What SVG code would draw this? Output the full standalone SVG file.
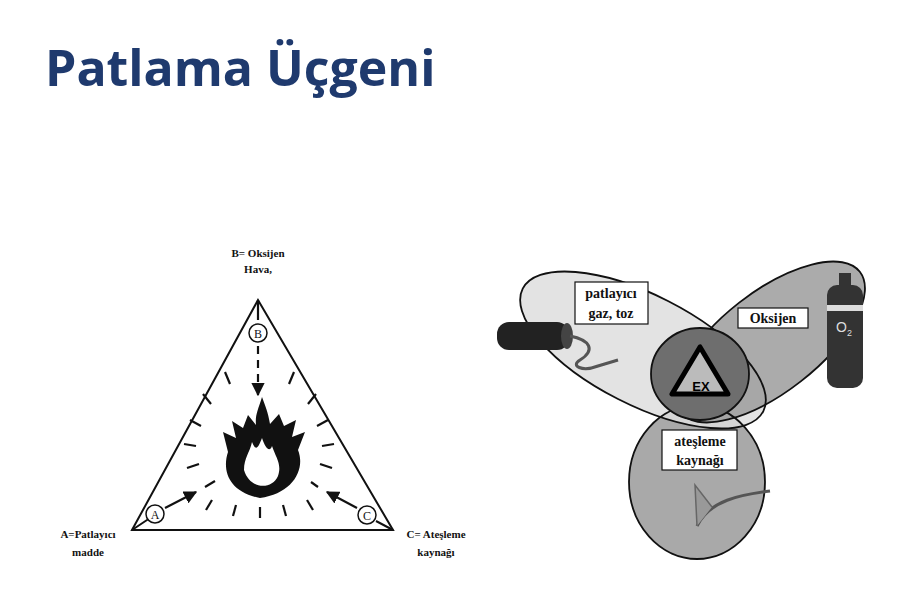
<svg xmlns="http://www.w3.org/2000/svg" width="900" height="595" viewBox="0 0 900 595">
<defs>
<marker id="ah" viewBox="0 0 10 10" refX="9" refY="5" markerWidth="6" markerHeight="6" orient="auto"><path d="M0,0L10,5L0,10z" fill="#111"/></marker>
</defs>
<style>
.lbl{font-family:"Liberation Serif",serif;font-weight:bold;font-size:11px;fill:#111;text-anchor:middle}
.ct{font-family:"Liberation Serif",serif;font-size:12px;fill:#111;text-anchor:middle}
.bx{font-family:"Liberation Serif",serif;font-weight:bold;font-size:14px;fill:#111;text-anchor:middle}
.edge{stroke:#111;stroke-width:2;fill:none}
.dash{stroke:#111;stroke-width:2.2;fill:none}
.ol{stroke:#111;stroke-width:1.8;fill:none}
</style>
<rect width="900" height="595" fill="#fff"/>
<text x="45" y="86" font-family="Open Sans, Liberation Sans, sans-serif" font-weight="bold" font-size="50" fill="#1f3a6e">Patlama Üçgeni</text>

<g id="triangle">
<polygon points="258,300 132,530 393,530" class="edge"/>
<path d="M132,530 L150,518 M393,530 L376,521" class="edge"/>
<g class="dash">
<line x1="258" y1="300" x2="258" y2="320"/>
<line x1="258" y1="346" x2="258" y2="395" stroke-dasharray="8,6" marker-end="url(#ah)"/>
<line x1="165" y1="508" x2="196" y2="492" marker-end="url(#ah)"/>
<line x1="205" y1="487" x2="215" y2="481"/>
<line x1="357" y1="508" x2="327" y2="492" marker-end="url(#ah)"/>
<line x1="318" y1="487" x2="311" y2="482"/>
<line x1="225" y1="372" x2="230" y2="384"/>
<line x1="294" y1="372" x2="289" y2="384"/>
<line x1="203" y1="394" x2="211" y2="404"/>
<line x1="316" y1="394" x2="308" y2="404"/>
<line x1="190" y1="420" x2="201" y2="426"/>
<line x1="328" y1="420" x2="317" y2="426"/>
<line x1="184" y1="444" x2="196" y2="446"/>
<line x1="334" y1="444" x2="322" y2="446"/>
<line x1="187" y1="468" x2="199" y2="464"/>
<line x1="332" y1="468" x2="320" y2="464"/>
<line x1="206" y1="510" x2="212" y2="500"/>
<line x1="313" y1="510" x2="307" y2="500"/>
<line x1="233" y1="516" x2="236" y2="505"/>
<line x1="286" y1="516" x2="283" y2="505"/>
<line x1="260" y1="518" x2="260" y2="507"/>
</g>
<g fill="#fff" stroke="#111" stroke-width="1.5">
<circle cx="258" cy="333" r="9"/><circle cx="155" cy="514" r="9"/><circle cx="367" cy="515" r="9"/>
</g>
<text x="258" y="337.5" class="ct">B</text>
<text x="155" y="518.5" class="ct">A</text>
<text x="367" y="519.5" class="ct">C</text>
<path id="flame" fill="#111" d="M262,397 C258,410 255,415 256,425 L248,415 L243,428 L232,421 L236,438 L223,432 L228,452 C222,470 228,492 260,498 C292,494 306,470 298,450 L305,432 L292,437 L296,420 L284,426 L279,414 L270,424 C268,412 265,405 262,397 Z M244,470 C244,458 250,452 252,442 C256,452 258,448 262,438 C266,450 270,452 272,446 C276,458 282,464 278,476 C272,490 250,490 244,470 Z"/>
<text x="258" y="257" class="lbl">B= Oksijen</text>
<text x="258" y="273" class="lbl">Hava,</text>
<text x="88" y="538" class="lbl">A=Patlayıcı</text>
<text x="88" y="556" class="lbl">madde</text>
<text x="436" y="538" class="lbl">C= Ateşleme</text>
<text x="436" y="556" class="lbl">kaynağı</text>
</g>

<g id="venn">
<ellipse cx="697" cy="482" rx="68" ry="77" fill="#a9a9a9"/>
<ellipse cx="643" cy="350" rx="135" ry="55" transform="rotate(27 643 350)" fill="#dedede" fill-opacity="0.85"/>
<ellipse cx="770" cy="342" rx="114" ry="50" transform="rotate(-38 770 342)" fill="#9c9c9c" fill-opacity="0.85"/>
<ellipse cx="697" cy="482" rx="68" ry="77" class="ol"/>
<ellipse cx="643" cy="350" rx="135" ry="55" transform="rotate(27 643 350)" class="ol"/>
<ellipse cx="770" cy="342" rx="114" ry="50" transform="rotate(-38 770 342)" class="ol"/>
<ellipse cx="700" cy="374" rx="49" ry="46" style="fill:#6e6e6e;stroke:#111;stroke-width:1.8"/>
<polygon points="700,347 672,394 728,394" fill="#bbb" stroke="#000" stroke-width="5" stroke-linejoin="round"/>
<text x="701" y="391" font-family="Liberation Sans, sans-serif" font-weight="bold" font-size="13" text-anchor="middle" fill="#000">EX</text>
<g id="dynamite">
<rect x="497" y="322" width="72" height="28" rx="12" fill="#222"/>
<ellipse cx="567" cy="336" rx="6" ry="13" fill="#444"/>
<path d="M570,336 C590,340 596,350 580,360 C570,366 582,372 598,366 L618,360" stroke="#555" stroke-width="3" fill="none"/>
</g>
<g id="cylinder">
<rect x="827" y="285" width="36" height="103" rx="10" fill="#333"/>
<rect x="839" y="273" width="12" height="14" fill="#333"/>
<rect x="827" y="305" width="36" height="6" fill="#ddd"/>
<text x="844" y="332" font-family="Liberation Sans, sans-serif" font-size="14" fill="#ddd" text-anchor="middle">O<tspan font-size="9" dy="4">2</tspan></text>
</g>
<g id="match">
<path d="M697,526 C710,500 740,495 770,491" stroke="#555" stroke-width="3" fill="none"/>
<path d="M697,526 L695,485 L712,507" stroke="#666" stroke-width="1.5" fill="#999"/>
</g>
<g fill="#fff" stroke="#111" stroke-width="1.2">
<rect x="575" y="282" width="73" height="42"/>
<rect x="738" y="308" width="70" height="20"/>
<rect x="662" y="430" width="75" height="40"/>
</g>
<text x="611" y="298" class="bx">patlayıcı</text>
<text x="611" y="318" class="bx">gaz, toz</text>
<text x="773" y="323" class="bx">Oksijen</text>
<text x="700" y="446" class="bx">ateşleme</text>
<text x="700" y="465" class="bx">kaynağı</text>
</g>
</svg>
